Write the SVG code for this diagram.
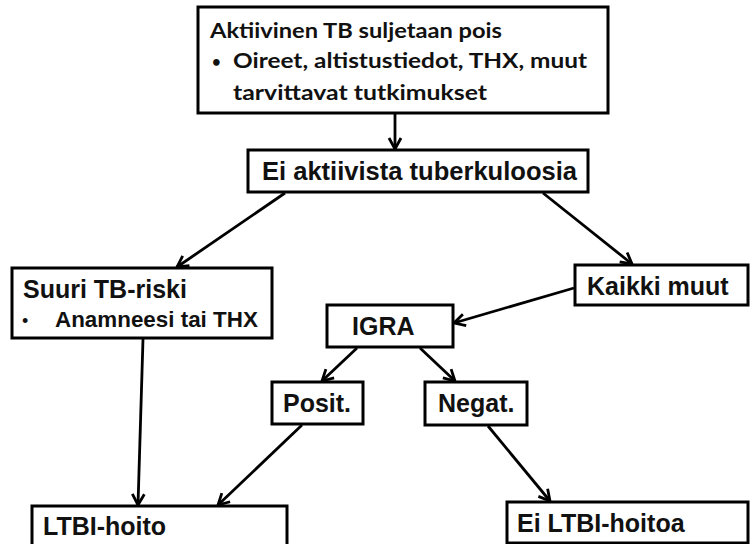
<svg xmlns="http://www.w3.org/2000/svg" width="750" height="544" viewBox="0 0 750 544">
<style>
.box{fill:#fff;stroke:#000;stroke-width:3}
.t{font-family:"Liberation Sans",Arial,sans-serif;font-weight:bold;font-size:25px;fill:#111}
.c{font-family:Lato,"Open Sans",sans-serif;font-weight:bold;font-size:21px;fill:#111}
.e{stroke:#000;stroke-width:2.8;fill:none;marker-end:url(#ah)}
</style>
<defs>
<marker id="ah" markerUnits="userSpaceOnUse" markerWidth="16" markerHeight="16" viewBox="0 0 16 16" refX="14" refY="8" orient="auto">
<path d="M3,2 L14,8 L3,14" fill="none" stroke="#000" stroke-width="2.8" stroke-linejoin="miter"/>
</marker>
</defs>
<rect width="750" height="544" fill="#fff"/>
<g id="connectors">
<line class="e" x1="395" y1="113" x2="395" y2="149"/>
<line class="e" x1="285" y1="193" x2="177" y2="267"/>
<line class="e" x1="543" y1="193" x2="632" y2="264"/>
<line class="e" x1="143" y1="339" x2="138" y2="505"/>
<line class="e" x1="574" y1="288" x2="454" y2="323"/>
<line class="e" x1="357" y1="348" x2="322" y2="381"/>
<line class="e" x1="420" y1="348" x2="455" y2="381"/>
<line class="e" x1="302" y1="425" x2="218" y2="505"/>
<line class="e" x1="488" y1="426" x2="550" y2="501"/>
</g>
<g id="n-aktiivinen">
<rect class="box" x="198" y="7" width="410" height="106"/>
<text class="c" x="210" y="38" textLength="292" lengthAdjust="spacingAndGlyphs">Aktiivinen TB suljetaan pois</text>
<text class="c" x="212" y="67" style="font-size:15px">•</text>
<text class="c" x="233" y="68" textLength="354" lengthAdjust="spacingAndGlyphs">Oireet, altistustiedot, THX, muut</text>
<text class="c" x="233" y="100" textLength="254" lengthAdjust="spacingAndGlyphs">tarvittavat tutkimukset</text>
</g>
<g id="n-eiaktiivista">
<rect class="box" x="248" y="150" width="340" height="42"/>
<text class="t" x="262" y="180" textLength="315" lengthAdjust="spacingAndGlyphs">Ei aktiivista tuberkuloosia</text>
</g>
<g id="n-suuri">
<rect class="box" x="12" y="268" width="260" height="70"/>
<text class="t" x="23" y="298">Suuri TB-riski</text>
<text class="t" x="22" y="327" style="font-size:18px;font-weight:normal">•</text>
<text class="t" x="55" y="327" style="font-size:22.4px">Anamneesi tai THX</text>
</g>
<g id="n-kaikki">
<rect class="box" x="575" y="265" width="173" height="40"/>
<text class="t" x="587" y="295">Kaikki muut</text>
</g>
<g id="n-igra">
<rect class="box" x="327" y="305" width="126" height="42"/>
<text class="t" x="352" y="335">IGRA</text>
</g>
<g id="n-posit">
<rect class="box" x="272" y="382" width="91" height="42"/>
<text class="t" x="283" y="412">Posit.</text>
</g>
<g id="n-negat">
<rect class="box" x="425" y="382" width="102" height="43"/>
<text class="t" x="438" y="412">Negat.</text>
</g>
<g id="n-ltbi">
<rect class="box" x="32" y="506" width="255" height="44"/>
<text class="t" x="43" y="535">LTBI-hoito</text>
</g>
<g id="n-eiltbi">
<rect class="box" x="507" y="502" width="241" height="41"/>
<text class="t" x="517" y="532">Ei LTBI-hoitoa</text>
</g>
</svg>
